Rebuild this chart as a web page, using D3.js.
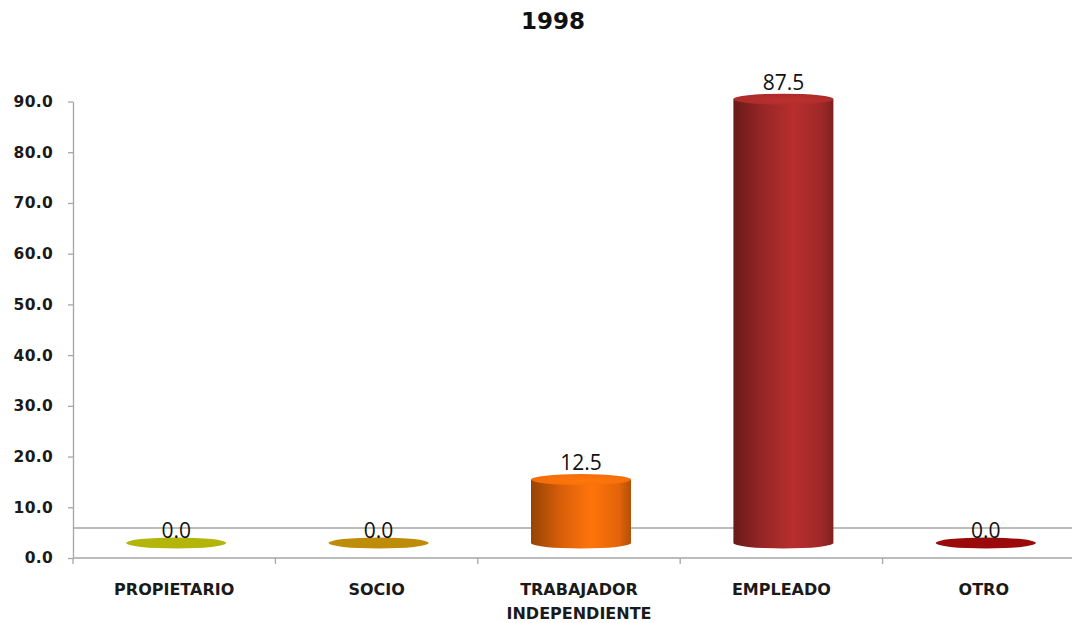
<!DOCTYPE html>
<html><head><meta charset="utf-8">
<script src="https://cdn.jsdelivr.net/npm/d3@7"></script>
<style>body{margin:0;background:#fff}</style>
</head><body>
<script>
const categories = ["PROPIETARIO","SOCIO","TRABAJADOR INDEPENDIENTE","EMPLEADO","OTRO"];
const categoryLines = [["PROPIETARIO"],["SOCIO"],["TRABAJADOR","INDEPENDIENTE"],["EMPLEADO"],["OTRO"]];
const values = [0.0, 0.0, 12.5, 87.5, 0.0];
const colors = ["#b3b50a","#bf8c0a","#f06a0a","#a82a2a","#9a0a0a"];
const yTicks = [0,10,20,30,40,50,60,70,80,90];
const title = "1998";

const W = 1072, H = 623;
const svg = d3.select("body").append("svg").attr("width", W).attr("height", H);
const left = 73, right = 1085, axisBottom = 558, depth = 15;

const x = d3.scaleBand().domain(categories).range([left, right]).padding(0);
const y = d3.scaleLinear().domain([0, 90]).range([axisBottom, axisBottom - 456.5]);

const defs = svg.append("defs");
function shade(c, k){ return d3.color(c).darker(k).formatHex(); }
function bright(c, k){ return d3.color(c).brighter(k).formatHex(); }
colors.forEach((c, i) => {
  const g = defs.append("linearGradient").attr("id", "g" + i).attr("x1", "0").attr("x2", "1").attr("y1", "0").attr("y2", "0");
  g.append("stop").attr("offset", "0").attr("stop-color", shade(c, 1.3));
  g.append("stop").attr("offset", "0.3").attr("stop-color", shade(c, 0.3));
  g.append("stop").attr("offset", "0.6").attr("stop-color", bright(c, 0.25));
  g.append("stop").attr("offset", "0.88").attr("stop-color", shade(c, 0.15));
  g.append("stop").attr("offset", "1").attr("stop-color", shade(c, 0.8));
  const t = defs.append("radialGradient").attr("id", "t" + i).attr("cx", "0.55").attr("cy", "0.6").attr("r", "0.7");
  t.append("stop").attr("offset", "0").attr("stop-color", bright(c, 0.35));
  t.append("stop").attr("offset", "1").attr("stop-color", c);
});

// title
svg.append("text").attr("x", 553).attr("y", 29).attr("text-anchor", "middle")
  .attr("font-family", "DejaVu Sans").attr("font-weight", "bold").attr("font-size", 23).attr("fill", "#111").text(title);

// back floor line
svg.append("line").attr("x1", left).attr("x2", W).attr("y1", axisBottom - 2 * depth).attr("y2", axisBottom - 2 * depth)
  .attr("stroke", "#a6a6a6").attr("stroke-width", 1.3);

// y axis
const yAxis = svg.append("g").attr("transform", `translate(${left},0)`)
  .call(d3.axisLeft(y).tickValues(yTicks).tickFormat(d3.format(".1f")).tickSize(5).tickSizeOuter(0));
yAxis.select(".domain").attr("stroke", "#a6a6a6").attr("stroke-width", 1.3);
yAxis.selectAll(".tick line").attr("stroke", "#a6a6a6").attr("stroke-width", 1.3);
yAxis.selectAll(".tick text").attr("font-family", "DejaVu Sans").attr("font-weight", "bold")
  .attr("font-size", 15.5).attr("fill", "#1a1a1a").attr("x", -20).attr("letter-spacing", 0.3);

// x axis
const xAxisG = svg.append("g");
xAxisG.append("line").attr("x1", left).attr("x2", W).attr("y1", axisBottom).attr("y2", axisBottom)
  .attr("stroke", "#a6a6a6").attr("stroke-width", 1.3);
categories.forEach((c, i) => {
  const bx = x(c);
  xAxisG.append("line").attr("x1", bx).attr("x2", bx).attr("y1", axisBottom).attr("y2", axisBottom + 6)
    .attr("stroke", "#a6a6a6").attr("stroke-width", 1.3);
  const t = xAxisG.append("text").attr("text-anchor", "middle").attr("font-family", "DejaVu Sans")
    .attr("font-weight", "bold").attr("font-size", 16).attr("fill", "#1a1a1a");
  categoryLines[i].forEach((ln, j) => {
    t.append("tspan").attr("x", bx + x.bandwidth() / 2).attr("y", 595 + j * 24).text(ln);
  });
});

// cylinders
const rx = 50, ry = 5.5;
categories.forEach((c, i) => {
  const cx = x(c) + x.bandwidth() / 2 + 2;
  const base = y(0) - depth;
  const top = y(values[i]) - depth;
  const g = svg.append("g");
  if (values[i] > 0) {
    const path = `M${cx - rx},${top} L${cx - rx},${base} A${rx},${ry} 0 0 0 ${cx + rx},${base} L${cx + rx},${top} Z`;
    g.append("path").attr("d", path).attr("fill", `url(#g${i})`);
    g.append("ellipse").attr("cx", cx).attr("cy", top).attr("rx", rx).attr("ry", ry).attr("fill", `url(#t${i})`);
  } else {
    g.append("ellipse").attr("cx", cx).attr("cy", base).attr("rx", rx).attr("ry", ry).attr("fill", colors[i]);
  }
  svg.append("text").attr("x", cx).attr("y", top - ry - (values[i] > 0 ? 4 : 0)).attr("text-anchor", "middle")
    .attr("font-family", "Open Sans").attr("font-size", 21).attr("fill", "#111")
    .text(d3.format(".1f")(values[i]));
});
</script>
</body></html>
